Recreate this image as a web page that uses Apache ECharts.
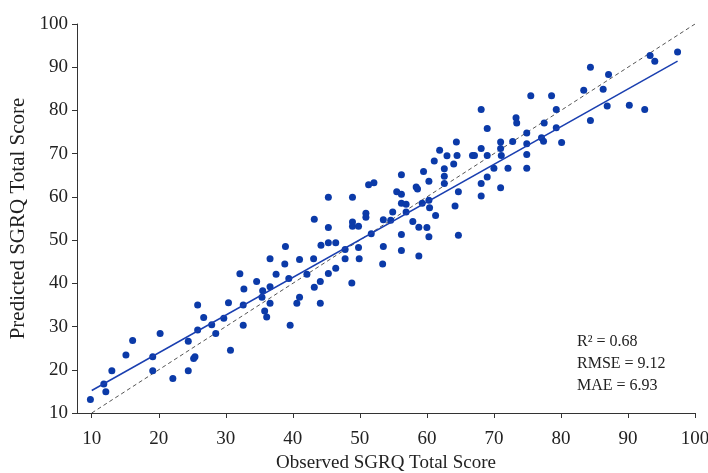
<!DOCTYPE html>
<html>
<head>
<meta charset="utf-8">
<script src="https://cdn.jsdelivr.net/npm/echarts@6/dist/echarts.min.js"></script>
<style>
html,body{margin:0;padding:0;background:#fff;}
#chart{width:708px;height:473px;}
</style>
</head>
<body>
<div id="chart"></div>
<script>
var observed = [9.8,11.8,12.1,13.0,15.1,16.1,19.1,19.1,20.2,22.1,24.4,24.4,25.2,25.4,25.8,25.8,26.7,27.9,28.5,29.7,30.4,30.7,32.1,32.7,32.6,32.6,34.6,35.5,35.4,35.8,36.1,
36.6,36.6,36.6,37.5,38.9,38.8,39.4,39.6,40.6,41.0,41.0,42.1,43.2,43.1,43.2,44.1,44.1,44.2,45.3,45.3,45.3,45.3,46.4,46.4,47.8,47.8,48.9,48.9,48.9,48.8,49.8,49.8,49.9,50.9,50.9,51.3,52.1,51.7,53.5,53.5,53.4,54.6,54.9,55.5,56.2,56.2,56.2,56.2,56.2,56.9,56.9,57.9,58.4,58.6,58.8,58.8,59.3,59.5,60.0,60.3,60.3,60.4,60.3,61.1,61.3,61.9,62.6,62.6,62.6,63.0,64.0,64.2,64.5,64.7,64.7,66.8,67.1,
64.4,68.1,68.1,68.1,68.1,69.0,69.0,69.0,70.0,71.0,71.0,71.1,71.0,72.1,72.8,73.3,73.4,74.9,74.9,74.9,74.9,75.5,77.1,77.4,77.5,78.6,79.3,79.3,80.1,83.4,84.4,84.4,86.3,87.1,86.9,90.2,92.5,93.3,94.0,97.4];
var predicted = [13.1,16.7,14.9,19.8,23.4,26.8,23.0,19.8,28.4,18.0,26.6,19.8,22.6,23.0,35.0,29.2,32.1,30.4,28.4,31.9,35.5,24.5,42.2,38.7,35.0,30.3,40.4,38.3,36.8,33.6,32.2,
45.7,39.2,35.4,42.1,48.5,44.5,41.1,30.3,35.4,36.8,45.5,42.1,54.8,45.7,39.1,35.4,40.4,48.8,59.9,52.9,49.4,42.3,49.4,43.5,47.8,45.7,59.9,54.2,53.2,40.1,53.2,48.3,45.7,56.2,55.3,62.8,63.3,51.5,54.7,48.5,44.5,54.6,56.5,61.2,60.6,65.1,58.5,51.3,47.6,58.3,56.5,54.3,62.3,61.8,53.0,46.3,58.5,65.9,52.9,63.6,59.2,57.5,50.8,68.3,55.7,70.8,66.5,64.8,63.1,69.5,67.6,57.9,69.6,61.2,51.1,69.6,69.6,
72.7,80.2,71.2,63.1,60.2,75.8,69.6,64.6,66.6,72.7,71.2,69.6,62.1,66.6,72.8,78.3,77.1,74.8,72.3,69.8,66.6,83.4,73.7,72.9,77.1,83.4,80.2,76.0,72.6,84.7,90.0,77.7,84.9,88.3,81.0,81.2,80.2,92.7,91.4,93.5];
var fitX = [10, 97.4];
var fitY = [15.2, 91.4];
var identityX = [10, 100];
var identityY = [10, 100];
var tickValues = [10,20,30,40,50,60,70,80,90,100];
var statLines = ['R\u00b2 = 0.68', 'RMSE = 9.12', 'MAE = 6.93'];

var pts = observed.map(function(x,i){return [x, predicted[i]];});
var fitData = fitX.map(function(x,i){return [x, fitY[i]];});
var idData = identityX.map(function(x,i){return [x, identityY[i]];});

var serif = "'Liberation Serif', 'DejaVu Serif', serif";
var chart = echarts.init(document.getElementById('chart'));
chart.setOption({
  animation: false,
  backgroundColor: '#fff',
  grid: {left: 77, right: 13, top: 24, bottom: 60, containLabel: false, outerBoundsMode: 'none'},
  xAxis: {
    type: 'value', min: 7.8, max: 100,
    name: 'Observed SGRQ Total Score', nameLocation: 'middle', nameGap: 41,
    nameTextStyle: {fontFamily: serif, fontSize: 19, color: '#222'},
    axisLine: {show: true, lineStyle: {color: '#333', width: 1}},
    axisTick: {show: true, length: 5, customValues: tickValues, lineStyle: {color: '#333'}},
    axisLabel: {customValues: tickValues, fontFamily: serif, fontSize: 19, color: '#222', margin: 17},
    splitLine: {show: false}
  },
  yAxis: {
    type: 'value', min: 10, max: 100, interval: 10,
    name: 'Predicted SGRQ Total Score', nameLocation: 'middle', nameGap: 46,
    nameTextStyle: {fontFamily: serif, fontSize: 21, color: '#222'},
    axisLine: {show: true, lineStyle: {color: '#333', width: 1}},
    axisTick: {show: true, length: 5, lineStyle: {color: '#333'}},
    axisLabel: {fontFamily: serif, fontSize: 19, color: '#222', margin: 9},
    splitLine: {show: false}
  },
  series: [
    {type: 'line', data: idData, symbol: 'none', silent: true,
     lineStyle: {color: '#555', width: 1, type: [4, 3]}, z: 1},
    {type: 'scatter', data: pts, symbol: 'circle', symbolSize: 7,
     itemStyle: {color: '#0b3aa8', opacity: 1}, z: 2},
    {type: 'line', data: fitData, symbol: 'none', silent: true,
     lineStyle: {color: '#1a3fb0', width: 1.5}, z: 3}
  ],
  graphic: statLines.map(function(t, i){
    return {type: 'text', left: 577, top: 334 + i*22,
      style: {text: t, fontFamily: serif, fontSize: 16, fill: '#222'}};
  })
});
</script>
</body>
</html>
